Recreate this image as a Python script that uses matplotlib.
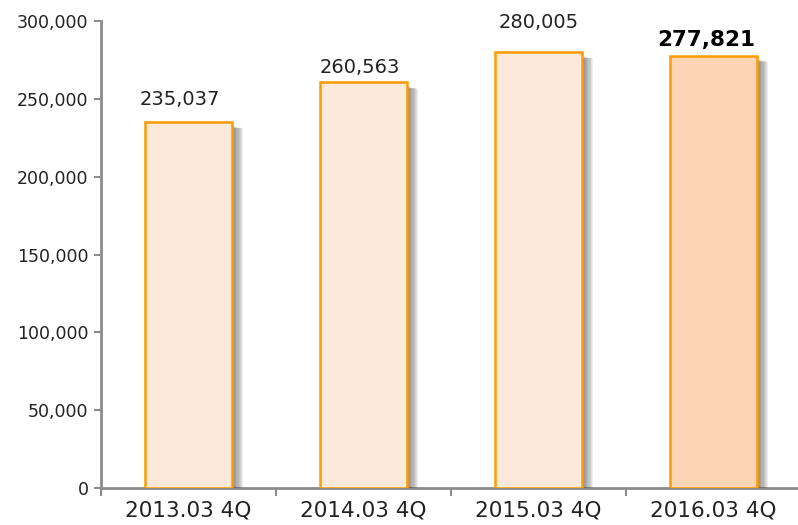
import matplotlib.pyplot as plt
import matplotlib.patheffects as pe
from matplotlib.ticker import FuncFormatter, FixedLocator

# data
periods = ["2013.03 4Q", "2014.03 4Q", "2015.03 4Q", "2016.03 4Q"]
values = [235037, 260563, 280005, 277821]
highlight = 3  # last bar is emphasised

# label nudges (pixels) to mimic the hand-placed labels
label_dx = [-9, -4, 0, -7]
label_dy = [17, 9, 24, 10]

fill_normal = "#FDE9DA"
fill_last = "#FBD5B6"
edge_col = "#FF9A00"
axis_col = "#8C8C8C"
text_col = "#222222"

plt.rcParams['font.family'] = ['DejaVu Sans']

fig = plt.figure(figsize=(7.98, 5.25), dpi=100)
ax = fig.add_axes([101 / 798, 37 / 525, 700 / 798, 467 / 525])

x = list(range(len(periods)))
colors = [fill_last if i == highlight else fill_normal for i in x]

# fake soft drop shadow: stacked offset copies with low alpha
shadow = [pe.SimplePatchShadow(offset=(k * 0.75, -2.5 - k * 0.2), shadow_rgbFace="#444444", alpha=0.09)
          for k in range(1, 11)]
shadow.append(pe.Normal())

bars = ax.bar(x, values, width=0.5, color=colors, edgecolor=edge_col, linewidth=1.8, zorder=3)
for b in bars:
    b.set_path_effects(shadow)

for i, (b, v) in enumerate(zip(bars, values)):
    bold = i == highlight
    ax.annotate(f"{v:,}", (b.get_x() + b.get_width() / 2, v),
                xytext=(label_dx[i], label_dy[i]), textcoords="offset pixels",
                ha="center", va="baseline",
                fontsize=15.5 if bold else 14,
                fontweight="bold" if bold else "normal",
                color="black" if bold else text_col)

ax.set_xlim(-0.5, 3.5)
ax.set_ylim(0, 300000)
ax.set_yticks(range(0, 300001, 50000))
ax.yaxis.set_major_formatter(FuncFormatter(lambda v, p: f"{int(v):,}"))

ax.set_xticks(x)
ax.set_xticklabels(periods)
ax.xaxis.set_minor_locator(FixedLocator([-0.5, 0.5, 1.5, 2.5]))
ax.tick_params(axis="x", which="major", length=0, pad=9, labelsize=15.5, labelcolor=text_col)
ax.tick_params(axis="x", which="minor", length=6, width=1.5, color=axis_col, direction="out")
ax.tick_params(axis="y", length=5, width=1.5, color=axis_col, labelsize=12.5, labelcolor=text_col, pad=4)

for s in ["top", "right"]:
    ax.spines[s].set_visible(False)
for s in ["left", "bottom"]:
    ax.spines[s].set_color(axis_col)
    ax.spines[s].set_linewidth(2)
ax.spines["bottom"].set_zorder(2)

fig.savefig("out.png", dpi=100)
